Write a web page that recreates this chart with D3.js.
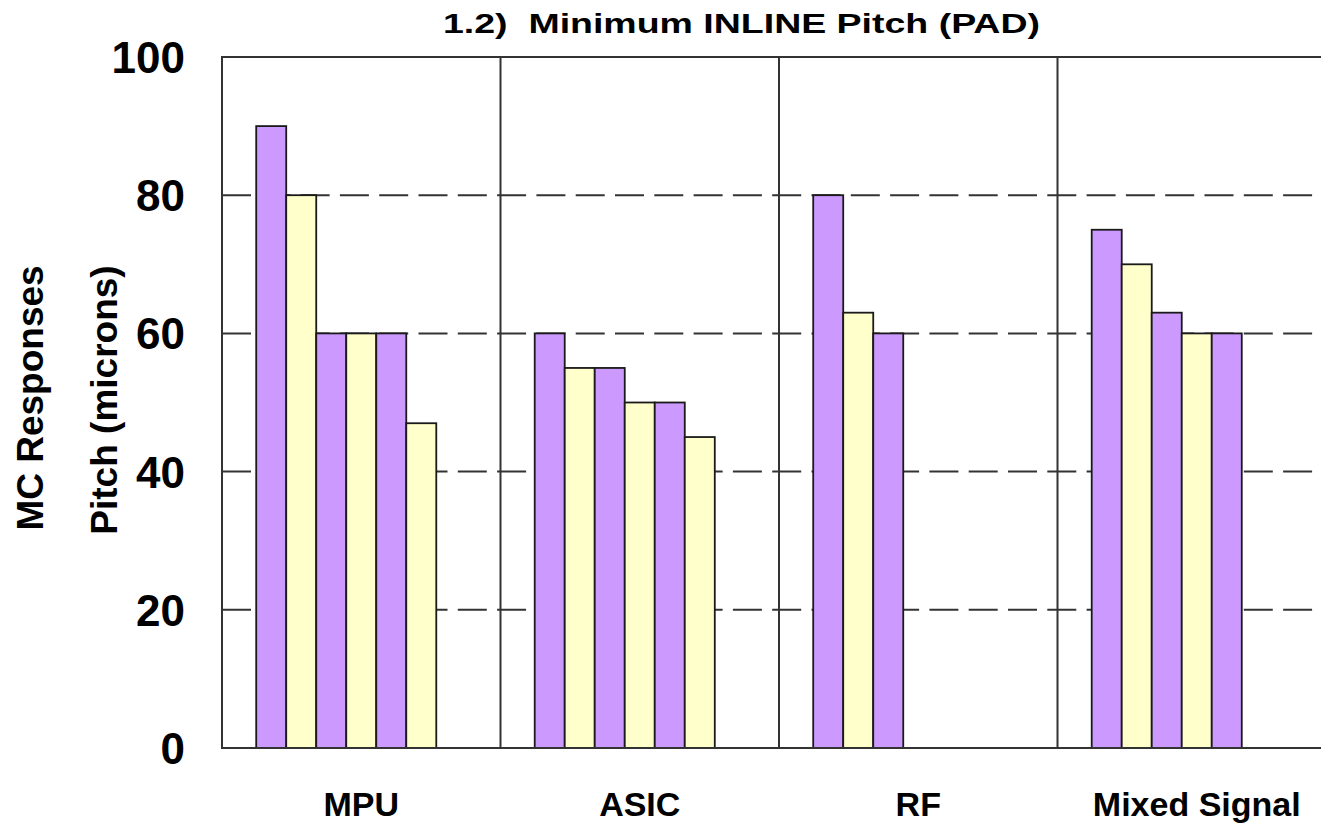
<!DOCTYPE html>
<html>
<head>
<meta charset="utf-8">
<script src="https://cdn.jsdelivr.net/npm/d3@7"></script>
<style>
  html, body { margin: 0; padding: 0; background: #fff; overflow: hidden; }
  text { font-family: Arial, "Liberation Sans", sans-serif; font-weight: bold; fill: #000; }
</style>
</head>
<body>
<svg id="chart" width="1321" height="824"></svg>
<script>
const categories = ["MPU", "ASIC", "RF", "Mixed Signal"];
// Responses per category (7 response slots, unused ones are null)
const response1 = [90, 60, 80, 75];
const response2 = [80, 55, 63, 70];
const response3 = [60, 55, 60, 63];
const response4 = [60, 50, null, 60];
const response5 = [60, 50, null, 60];
const response6 = [47, 45, null, null];
const response7 = [null, null, null, null];
const seriesValues = [response1, response2, response3, response4, response5, response6, response7];
const seriesColors = ["#CC99FF", "#FFFFCC", "#CC99FF", "#FFFFCC", "#CC99FF", "#FFFFCC", "#CC99FF"];
const yTicks = [0, 20, 40, 60, 80, 100];
const gridTicks = [20, 40, 60, 80];
const title = "1.2)\u00A0\u00A0Minimum INLINE Pitch (PAD)";
const yTitle1 = "MC Responses";
const yTitle2 = "Pitch (microns)";

const svg = d3.select("#chart");
const plot = { left: 222, right: 1336, top: 57, bottom: 748 };

const x0 = d3.scaleBand().domain(categories).range([plot.left, plot.right]).padding(0);
const x1 = d3.scaleBand().domain(d3.range(seriesValues.length))
  .range([0, x0.bandwidth()]).paddingInner(0).paddingOuter(1.14);
const y = d3.scaleLinear().domain([0, 100]).range([plot.bottom, plot.top]);

const lineColor = "#333";

// dashed gridlines
svg.append("g").selectAll("line").data(gridTicks).join("line")
  .attr("x1", plot.left).attr("x2", plot.right)
  .attr("y1", d => y(d)).attr("y2", d => y(d))
  .attr("stroke", lineColor).attr("stroke-width", 2)
  .attr("stroke-dasharray", "29,10.3");

// category separators
svg.append("g").selectAll("line").data(categories.slice(1)).join("line")
  .attr("x1", d => x0(d)).attr("x2", d => x0(d))
  .attr("y1", plot.top).attr("y2", plot.bottom)
  .attr("stroke", lineColor).attr("stroke-width", 2);

// bars
const bars = [];
categories.forEach((c, ci) => {
  seriesValues.forEach((s, si) => {
    if (s[ci] != null) bars.push({ c, si, v: s[ci] });
  });
});
svg.append("g").selectAll("rect").data(bars).join("rect")
  .attr("x", d => x0(d.c) + x1(d.si))
  .attr("width", x1.bandwidth())
  .attr("y", d => y(d.v))
  .attr("height", d => y(0) - y(d.v))
  .attr("fill", d => seriesColors[d.si])
  .attr("stroke", "#1a1a1a").attr("stroke-width", 1.8);

// frame: left, top, bottom
svg.append("path")
  .attr("d", `M${plot.right},${plot.top}H${plot.left}V${plot.bottom}H${plot.right}`)
  .attr("fill", "none").attr("stroke", lineColor).attr("stroke-width", 2);

// y tick labels
svg.append("g").selectAll("text").data(yTicks).join("text")
  .attr("x", 185).attr("y", d => y(d) + 16)
  .attr("text-anchor", "end")
  .style("font-size", "44px")
  .text(d => d);

// category labels
svg.append("g").selectAll("text").data(categories).join("text")
  .attr("x", d => x0(d) + x0.bandwidth() / 2)
  .attr("y", 816)
  .attr("text-anchor", "middle")
  .style("font-size", "34px")
  .text(d => d);

// title
svg.append("text").attr("x", 443).attr("y", 33)
  .attr("text-anchor", "start").style("font-size", "27px")
  .attr("textLength", 597).attr("lengthAdjust", "spacingAndGlyphs")
  .text(title);

// y axis titles
svg.append("text").attr("transform", "translate(43,398) rotate(-90)")
  .attr("text-anchor", "middle").style("font-size", "37px").text(yTitle1);
svg.append("text").attr("transform", "translate(117,400) rotate(-90)")
  .attr("text-anchor", "middle").style("font-size", "37px").text(yTitle2);
</script>
</body>
</html>
